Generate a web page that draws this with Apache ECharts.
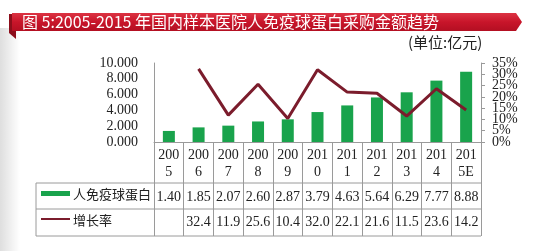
<!DOCTYPE html>
<html>
<head>
<meta charset="utf-8">
<script src="https://cdn.jsdelivr.net/npm/echarts@6/dist/echarts.min.js"></script>
<style>
  html, body { margin: 0; padding: 0; background: #fff; }
  #main { width: 554px; height: 251px; }
</style>
</head>
<body>
<div id="main"></div>
<script>
// data
var years = ['2005', '2006', '2007', '2008', '2009', '2010', '2011', '2012', '2013', '2014', '2015E'];
var amount = [1.40, 1.85, 2.07, 2.60, 2.87, 3.79, 4.63, 5.64, 6.29, 7.77, 8.88];
var growth = [null, 32.4, 11.9, 25.6, 10.4, 32.0, 22.1, 21.6, 11.5, 23.6, 14.2];
var rateTicks = [0, 5, 10, 15, 20, 25, 30, 35];

var serif = '"Liberation Serif", "DejaVu Serif", serif';
var cjk = '"Noto Sans CJK SC", sans-serif';
var gridLine = '#9a9a9a';

var chart = echarts.init(document.getElementById('main'));

var option = {
    animation: false,
    backgroundColor: '#fff',
    grid: { left: 154, right: 73, top: 63, bottom: 109 },
    xAxis: [
        {
            type: 'category',
            data: years,
            boundaryGap: true,
            axisLine: { lineStyle: { color: gridLine, width: 1 } },
            axisTick: { show: true, length: 94, interval: 0, lineStyle: { color: gridLine } },
            axisLabel: {
                interval: 0,
                margin: 5,
                fontFamily: serif,
                fontSize: 14,
                lineHeight: 17,
                color: '#222',
                formatter: function (v) { return v.slice(0, 3) + '\n' + v.slice(3); }
            }
        },
        {
            type: 'category',
            data: years,
            position: 'bottom',
            offset: 41,
            axisLine: { show: false },
            axisTick: { show: false },
            axisLabel: {
                interval: 0,
                margin: 7,
                fontFamily: serif,
                fontSize: 14,
                color: '#222',
                formatter: function (v, i) { return amount[i].toFixed(2); }
            }
        },
        {
            type: 'category',
            data: years,
            position: 'bottom',
            offset: 67,
            axisLine: { show: false },
            axisTick: { show: false },
            axisLabel: {
                interval: 0,
                margin: 6,
                fontFamily: serif,
                fontSize: 14,
                color: '#222',
                formatter: function (v, i) { return growth[i] == null ? '' : growth[i].toFixed(1); }
            }
        }
    ],
    yAxis: [
        {
            type: 'value',
            min: 0,
            max: 10,
            interval: 2,
            axisLine: { show: true, lineStyle: { color: gridLine } },
            axisTick: { show: false },
            splitLine: { show: false },
            axisLabel: {
                margin: 16,
                showMinLabel: true,
                showMaxLabel: true,
                fontFamily: serif,
                fontSize: 14,
                color: '#222',
                formatter: function (v) { return v.toFixed(3); }
            }
        },
        {
            type: 'value',
            min: 0,
            max: 35,
            interval: 5,
            position: 'right',
            axisLine: { show: true, lineStyle: { color: gridLine } },
            axisTick: { show: true, length: 4, lineStyle: { color: gridLine } },
            splitLine: { show: false },
            // labels are packed tighter than ECharts allows, drawn below
            axisLabel: { show: false }
        }
    ],
    series: [
        {
            name: '人免疫球蛋白',
            type: 'bar',
            data: amount,
            barWidth: 12,
            itemStyle: { color: '#19a34c' }
        },
        {
            name: '增长率',
            type: 'line',
            yAxisIndex: 1,
            data: growth,
            symbol: 'none',
            z: 5,
            lineStyle: { color: '#7b1c2c', width: 3 }
        }
    ]
};

chart.setOption(option);

var x1 = 554 - 73;
var rows = [183, 209, 236];
var left = 36;
var g = [];

// right axis labels
rateTicks.forEach(function (t) {
    var y = chart.convertToPixel({ yAxisIndex: 1 }, t);
    g.push({ type: 'text', x: x1 + 11, y: y, style: { text: t + '%', font: '14px ' + serif, fill: '#222', textVerticalAlign: 'middle' } });
});

// table frame
rows.forEach(function (y) {
    g.push({ type: 'line', shape: { x1: left, y1: y, x2: x1, y2: y }, style: { stroke: gridLine, lineWidth: 1 } });
});
g.push({ type: 'line', shape: { x1: left, y1: rows[0], x2: left, y2: rows[2] }, style: { stroke: gridLine, lineWidth: 1 } });

// legend cells
g.push({ type: 'rect', shape: { x: 41, y: 191, width: 29, height: 5 }, style: { fill: '#19a34c' } });
g.push({ type: 'text', x: 73, y: 194, style: { text: '人免疫球蛋白', font: '13px ' + cjk, fill: '#222', textVerticalAlign: 'middle' } });
g.push({ type: 'line', shape: { x1: 41, y1: 219, x2: 70, y2: 219 }, style: { stroke: '#7b1c2c', lineWidth: 2 } });
g.push({ type: 'text', x: 73, y: 220, style: { text: '增长率', font: '13px ' + cjk, fill: '#222', textVerticalAlign: 'middle' } });

// soft shadow at the left edge
g.push({
    type: 'rect', z: -1, shape: { x: 0, y: 28, width: 20, height: 223 },
    style: { fill: new echarts.graphic.LinearGradient(0, 0, 1, 0, [
        { offset: 0, color: 'rgba(0,0,0,0.13)' }, { offset: 1, color: 'rgba(0,0,0,0)' }
    ]) }
});

g.push({ type: 'text', x: 408, y: 42, style: { text: '(单位:亿元)', font: '15px ' + cjk, fill: '#222', textVerticalAlign: 'middle' } });

// title ribbon
g.push({ type: 'polygon', z: 10, shape: { points: [[9, 14], [16, 14], [16, 39], [9, 33]] }, style: { fill: '#8c0e1b' } });
g.push({
    type: 'polygon', z: 11, shape: { points: [[12, 13], [516, 13], [522, 22], [516, 31], [12, 31]] },
    style: { fill: new echarts.graphic.LinearGradient(0, 0, 0, 1, [
        { offset: 0, color: '#dc3443' }, { offset: 0.5, color: '#c8152a' }, { offset: 1, color: '#b30f22' }
    ]) }
});
g.push({ type: 'text', z: 12, x: 22, y: 22, style: { text: '图 5:2005-2015 年国内样本医院人免疫球蛋白采购金额趋势', font: '16px ' + cjk, fill: '#fff', textVerticalAlign: 'middle' } });

chart.setOption({ graphic: g });
</script>
</body>
</html>
